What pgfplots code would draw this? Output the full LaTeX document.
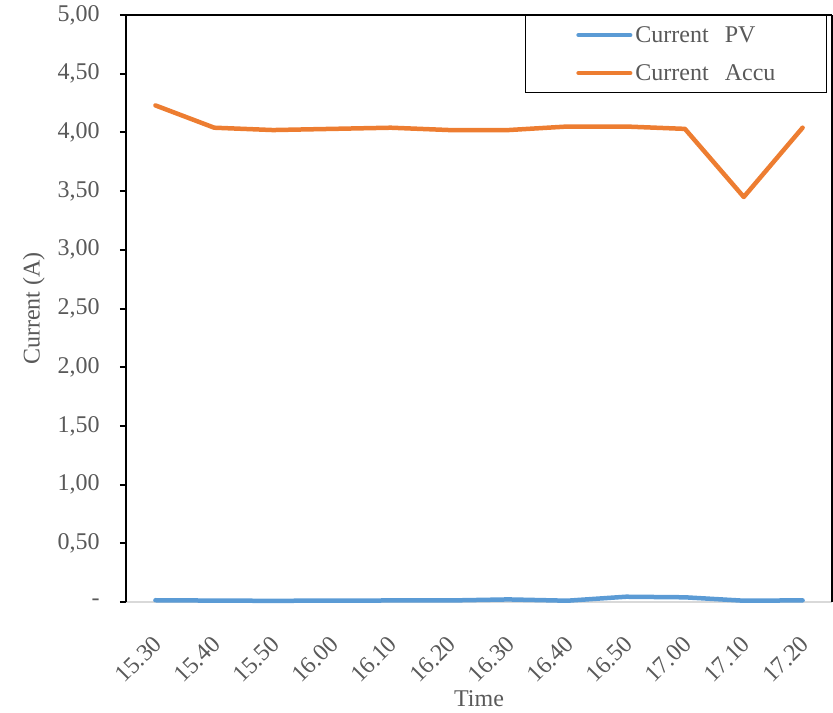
\documentclass[border=0pt]{standalone}
\usepackage{fontspec}
\setmainfont{Liberation Serif}
\usepackage{pgfplots}
\pgfplotsset{compat=1.18}
\usetikzlibrary{calc}

\definecolor{pvblue}{HTML}{5B9BD5}
\definecolor{accuorange}{HTML}{ED7D31}
\definecolor{labelgray}{HTML}{595959}
\definecolor{basegray}{HTML}{D9D9D9}

% Measured currents, one row per 10-minute reading
\pgfplotstableread{
idx  pv     accu
0    0.015  4.23
1    0.012  4.04
2    0.010  4.02
3    0.012  4.03
4    0.013  4.04
5    0.013  4.02
6    0.022  4.02
7    0.011  4.05
8    0.045  4.05
9    0.040  4.03
10   0.011  3.45
11   0.014  4.04
}\currentdata

\begin{document}
\fontsize{12}{14.4}\selectfont
\begin{tikzpicture}
\begin{axis}[
  scale only axis,
  width=353pt, height=293.5pt,
  xmin=-0.5, xmax=11.5,
  ymin=0, ymax=5,
  axis line style={draw=none},
  tick align=outside,
  major tick length=3pt,
  xtick={0,...,11},
  xticklabels={15.30,15.40,15.50,16.00,16.10,16.20,16.30,16.40,16.50,17.00,17.10,17.20},
  xtick style={draw=none},
  xtick pos=bottom,
  ytick={0,0.5,1,1.5,2,2.5,3,3.5,4,4.5,5},
  yticklabels={{-},{0,50},{1,00},{1,50},{2,00},{2,50},{3,00},{3,50},{4,00},{4,50},{5,00}},
  ytick pos=left,
  ytick style={black, line width=1pt},
  tick label style={font=\fontsize{12}{14.4}\selectfont\color{labelgray}},
  yticklabel style={anchor=east, inner sep=0pt, xshift=-10pt},
  xticklabel style={xshift=1.2pt, yshift=-16pt, rotate=45, anchor=east, inner sep=0pt},
  every axis y label/.style={at={(axis description cs:-0.1147,0.5)}, rotate=90, anchor=south, inner sep=0pt, font=\fontsize{12}{14.4}\selectfont\color{labelgray}},
  every axis x label/.style={at={(axis description cs:0.5,-0.15)}, anchor=north, inner sep=0pt, font=\fontsize{12}{14.4}\selectfont\color{labelgray}},
  ylabel={Current (A)},
  xlabel={Time},
  legend style={
    at={(rel axis cs:0.993,1)}, anchor=north east,
    draw=black, line width=0.6pt, fill=white,
    inner xsep=0pt, inner ysep=4.5pt,
    row sep=8.5pt, column sep=1.5pt,
    font=\fontsize{12}{14.4}\selectfont\color{labelgray},
    cells={anchor=west},
    nodes={inner sep=0pt, text width=95.5pt, text height=9pt, text depth=1.5pt, align=left},
  },
  legend image code/.code={
    \path[draw=none] (0pt,0pt) -- (53.5pt,0pt);
    \draw[#1, line cap=round] (26.6pt,0pt) -- (52.4pt,0pt);
  },
  clip=false,
]
% horizontal base line under the series
\draw[basegray, line width=1pt] (rel axis cs:0,0) -- (rel axis cs:1,0);

\addplot[pvblue, line width=2.25pt, line cap=round, line join=round] table[x=idx, y=pv] {\currentdata};
\addlegendentry{Current\ \ PV}
\addplot[accuorange, line width=2.25pt, line cap=round, line join=round] table[x=idx, y=accu] {\currentdata};
\addlegendentry{Current\ \ Accu}

% frame: left and top in heavier black, right side thinner
\draw[black, line width=1pt] (rel axis cs:0,0) -- (rel axis cs:0,1) -- ([xshift=-3pt]rel axis cs:0,1);
\draw[black, line width=1pt] (rel axis cs:0,1) -- (rel axis cs:1,1);
\draw[black, line width=0.7pt] (rel axis cs:1,0) -- (rel axis cs:1,1);
\end{axis}
\pgfresetboundingbox
\path[use as bounding box] ($(current axis.south west)+(-63pt,-55pt)$) rectangle ($(current axis.north east)+(0.5pt,7.5pt)$);
\end{tikzpicture}
\end{document}
